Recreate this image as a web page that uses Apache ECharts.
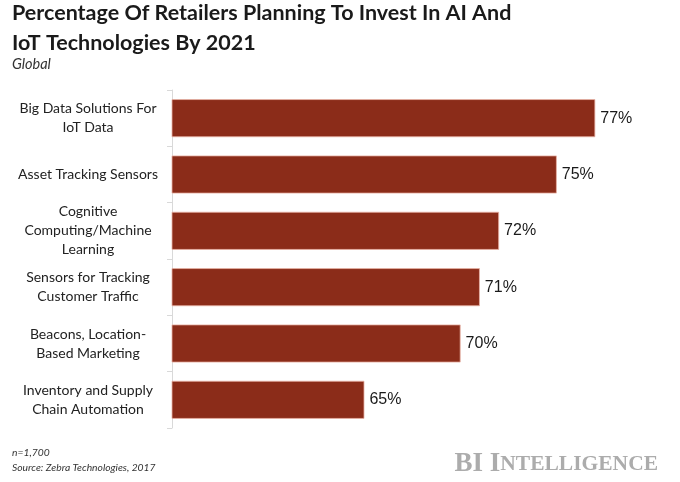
<!DOCTYPE html>
<html>
<head>
<meta charset="utf-8">
<script src="https://cdn.jsdelivr.net/npm/echarts@6/dist/echarts.min.js"></script>
<style>html,body{margin:0;padding:0;background:#fff}#c{width:680px;height:482px}</style>
</head>
<body>
<div id="c"></div>
<script>
var categories = [
  "Big Data Solutions For\nIoT Data",
  "Asset Tracking Sensors",
  "Cognitive\nComputing/Machine\nLearning",
  "Sensors for Tracking\nCustomer Traffic",
  "Beacons, Location-\nBased Marketing",
  "Inventory and Supply\nChain Automation"
];
var values = [77, 75, 72, 71, 70, 65];

var chart = echarts.init(document.getElementById('c'), null, {renderer: 'canvas'});
chart.setOption({
  backgroundColor: '#ffffff',
  animation: false,
  title: [
    {
      text: 'Percentage Of Retailers Planning To Invest In AI And\nIoT Technologies By 2021',
      left: 12, top: -2, padding: 0,
      textStyle: {fontFamily: 'Lato', fontWeight: 'bold', fontSize: 21.5, lineHeight: 30, color: '#1a1a1a'}
    },
    {
      text: 'Global',
      left: 12, top: 57, padding: 0,
      textStyle: {fontFamily: 'Lato', fontStyle: 'italic', fontWeight: 'normal', fontSize: 14.5, color: '#333'}
    },
    {
      text: 'n=1,700\nSource: Zebra Technologies, 2017',
      left: 12, top: 445, padding: 0,
      textStyle: {fontFamily: 'Lato', fontStyle: 'italic', fontWeight: 'normal', fontSize: 10.3, lineHeight: 15, color: '#333'}
    },
    {
      text: '{a|BI I}{b|NTELLIGENCE}',
      right: 17, top: 446,
      textStyle: {
        rich: {
          a: {fontFamily: 'Liberation Serif', fontSize: 27, color: '#acacac'},
          b: {fontFamily: 'Liberation Serif', fontSize: 21.5, color: '#acacac'}
        }
      }
    }
  ],
  grid: {left: 172, top: 90, right: 27, bottom: 54, containLabel: false},
  xAxis: {
    type: 'value', min: 55, max: 80, show: false
  },
  yAxis: {
    type: 'category',
    data: categories,
    inverse: true,
    axisLine: {show: true, lineStyle: {color: '#d9d9d9', width: 1}},
    axisTick: {show: true, length: 5, lineStyle: {color: '#d9d9d9'}},
    axisLabel: {
      margin: 84, align: 'center',
      fontFamily: 'Lato', fontSize: 14, lineHeight: 19, color: '#222'
    },
    splitLine: {show: false}
  },
  series: [{
    type: 'bar',
    data: values,
    barWidth: 38,
    itemStyle: {color: '#8b2c19', borderColor: '#e8b3a6', borderWidth: 0.8},
    label: {
      show: true, position: 'right', distance: 5,
      formatter: '{c}%',
      fontFamily: 'Liberation Sans', fontSize: 16, color: '#1a1a1a'
    }
  }]
});
</script>
</body>
</html>
